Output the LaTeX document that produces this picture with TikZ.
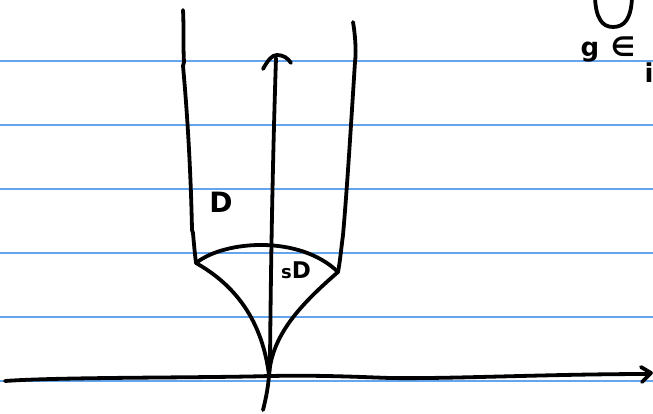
\documentclass[tikz,border=0pt]{standalone}
\usepackage{fontspec}
\setmainfont{DejaVu Sans}
\begin{document}
\begin{tikzpicture}[x=1pt,y=-1pt,
  ink/.style={line width=3.8pt,line cap=round,line join=round,black},
  rule/.style={line width=1.6pt,color=ruleblue},
  lbl/.style={inner sep=0pt,text=black,font=\bfseries}]
\definecolor{ruleblue}{RGB}{100,165,238}
\useasboundingbox (0,0) rectangle (653,414);
\fill[white] (0,0) rectangle (653,414);
% notebook lines
\foreach \yy in {61,125,189,253,317,381}
  \draw[rule] (0,\yy) -- (653,\yy);
% corners
\coordinate (L) at (196,263);
\coordinate (R) at (338,272);
\coordinate (O) at (269,375);
% left wall
\draw[ink] (183,10) .. controls (184,30) and (183,45) .. (184,62) -- (183,66) .. controls (188,120) and (191,180) .. (192,230) -- (193,233) .. controls (194,245) and (195,255) .. (L);
% right wall
\draw[ink] (353,22) .. controls (356,40) and (356,55) .. (355,62) .. controls (351,125) and (347,190) .. (343,235) .. controls (341,250) and (340,262) .. (R);
% arc
\draw[ink] (L) .. controls (225,240) and (300,235) .. (R);
% lower curves
\draw[ink] (L) .. controls (235,285) and (262,320) .. (O);
\draw[ink] (R) .. controls (300,305) and (272,335) .. (O);
% vertical axis
\draw[ink] (263,410) .. controls (268,390) and (269,380) .. (270,360) .. controls (271,250) and (273,150) .. (276,58);
\draw[ink] (263,69) .. controls (268,60) and (272,55) .. (277,55) .. controls (283,55) and (288,58) .. (291,63);
% horizontal axis
\draw[ink] (5,381) .. controls (60,377) and (200,378) .. (270,376) .. controls (320,375) and (360,377) .. (390,378) .. controls (450,379) and (550,374) .. (650,374);
\draw[ink] (641,367) -- (651,373) -- (642,382);
% labels
\node[lbl,font=\bfseries\fontsize{28}{28}\selectfont] (d1) at (221,202) {D};
\node[lbl,font=\bfseries\fontsize{23}{23}\selectfont] (d2) at (296,270) {{\fontsize{18}{18}\selectfont s}D};
% top right
\draw[ink] (595,-2) .. controls (596,18) and (602,27) .. (613,27) .. controls (625,27) and (631,18) .. (632,-2);
\node[lbl,font=\bfseries\fontsize{26}{26}\selectfont] (g) at (590,52) {g};
\node[lbl,font=\bfseries\fontsize{27}{27}\selectfont] (in) at (623,47) {∈};
\node[lbl,font=\bfseries\fontsize{26}{26}\selectfont] (i) at (649,73) {i};
\end{tikzpicture}
\end{document}
